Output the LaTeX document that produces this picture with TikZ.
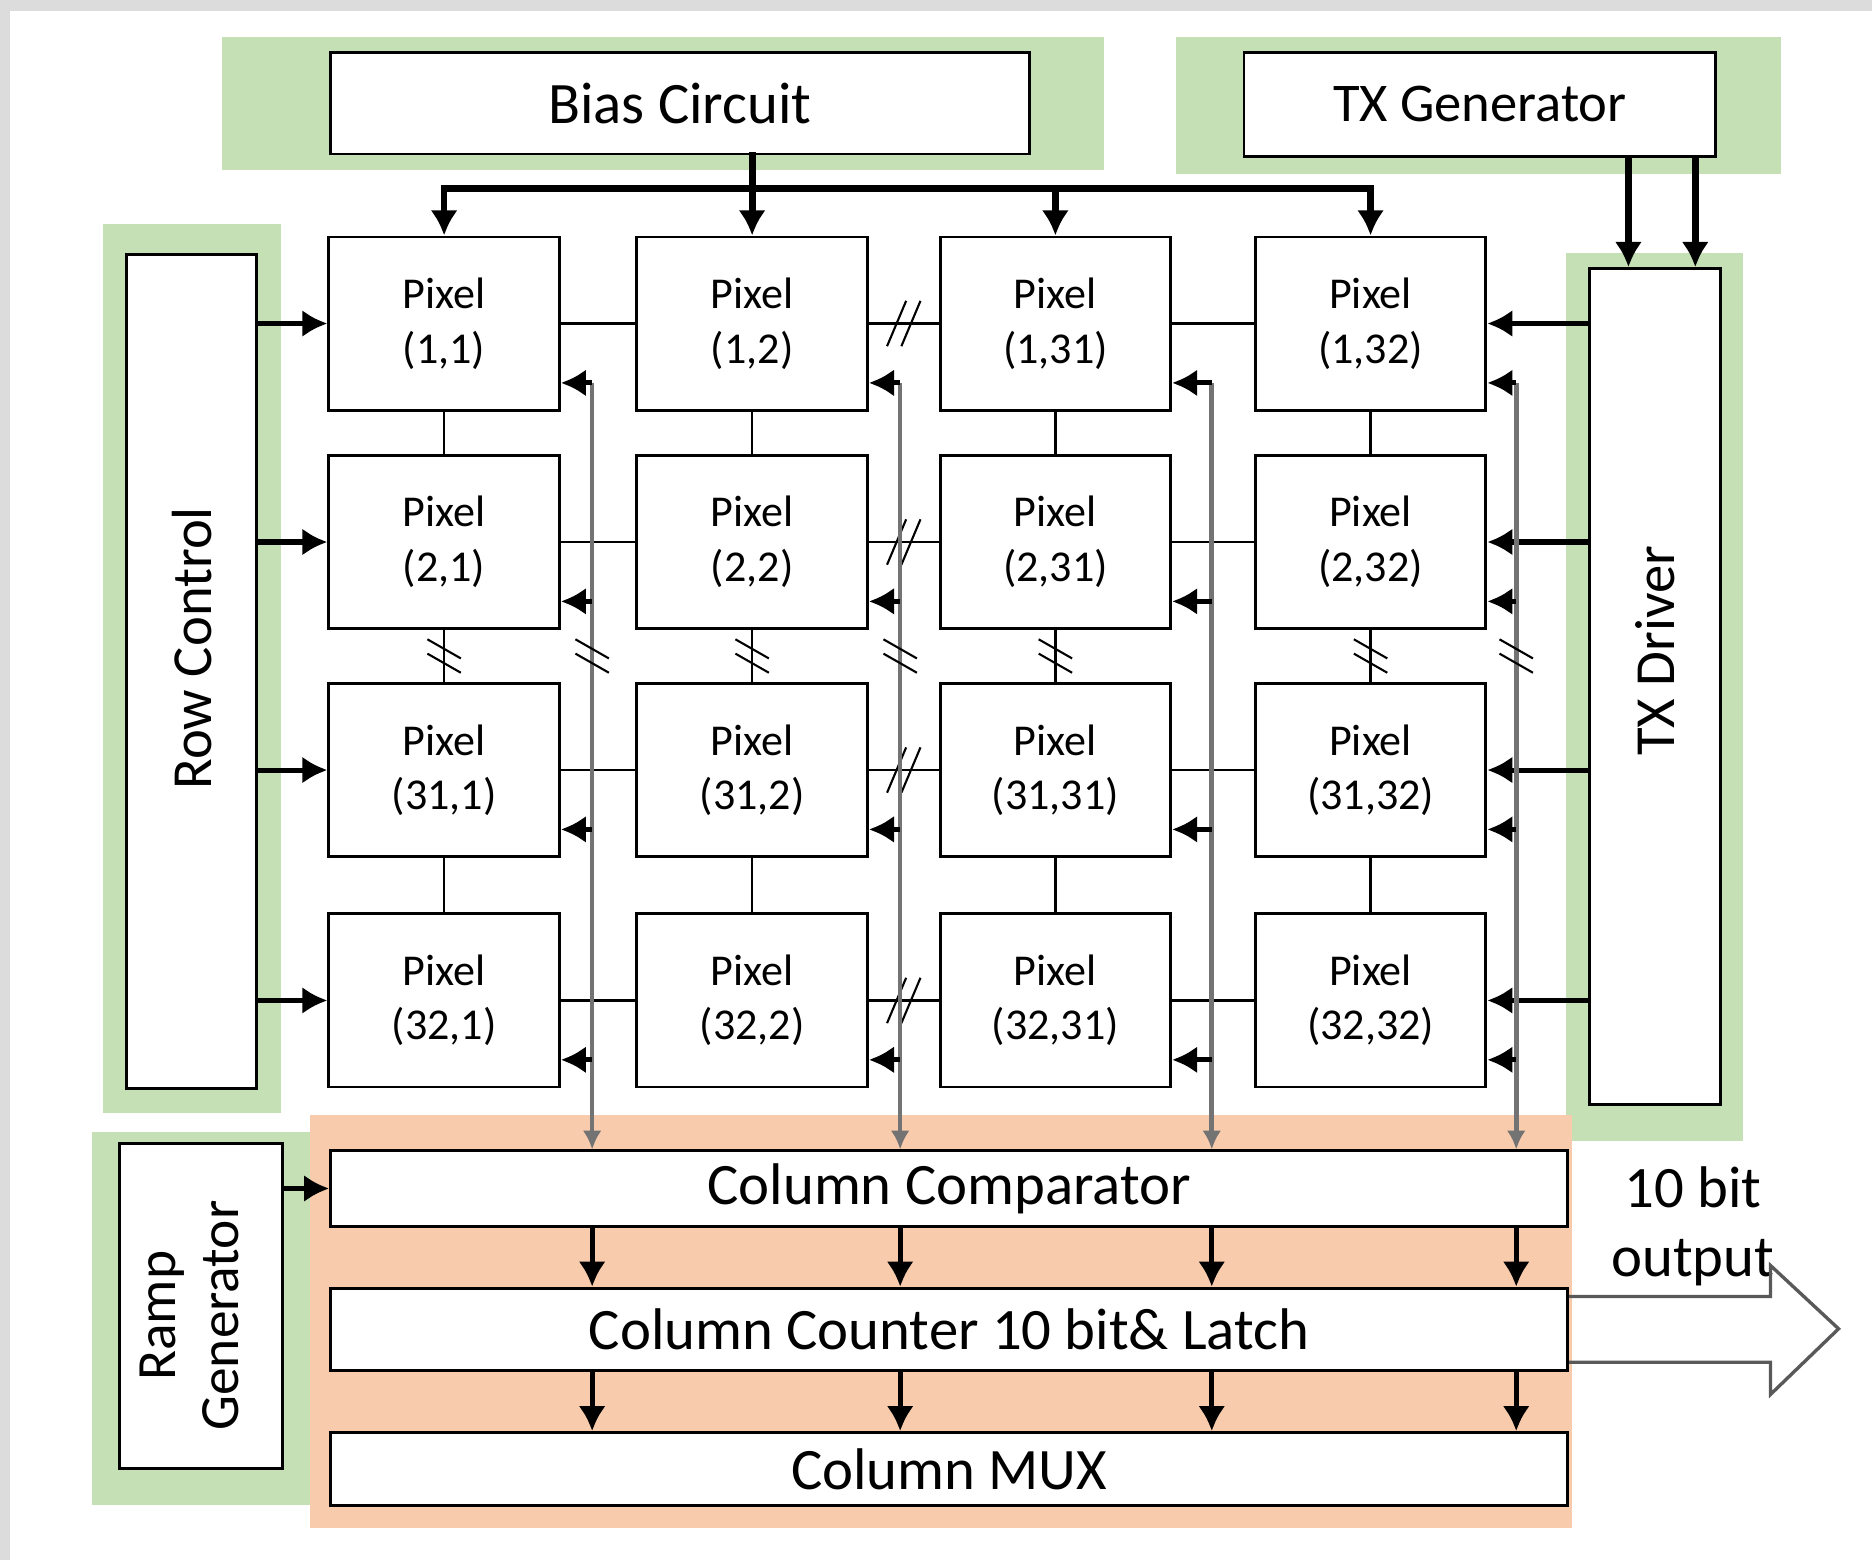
\documentclass[tikz,border=0pt]{standalone}
\usepackage{fontspec}
\setmainfont{Carlito}
\usepackage{xcolor}
\usepackage{tikz}
\usetikzlibrary{positioning, arrows.meta, calc}

\definecolor{blockgreen}{HTML}{C5E0B4}
\definecolor{readorange}{HTML}{F8CBAD}
\definecolor{framegray}{HTML}{DCDCDC}
\definecolor{outgray}{HTML}{595959}

% break marks on long links
\newcommand{\hcut}[1]{\draw[cutline] (#1) ++(-14,19) -- ++(16,-38) (#1) ++(-2,19) -- ++(16,-38);}
\newcommand{\vcut}[1]{\draw[cutline] (#1) ++(-14,-14) -- ++(28,16) (#1) ++(-14,-2) -- ++(28,16);}

\begin{document}
\begin{tikzpicture}[x=0.1mm, y=-0.1mm,
  box/.style={draw, line width=0.7pt, fill=white, inner sep=0pt, align=center},
  pixel/.style={box, minimum width=19.3mm, minimum height=14.5mm, font=\fontsize{10.5pt}{13pt}\selectfont},
  bigtext/.style={font=\fontsize{14pt}{16pt}\selectfont},
  sidetext/.style={font=\fontsize{13.5pt}{15pt}\selectfont},
  feed/.style={line width=1.2pt, -{Latex[length=6pt,width=6.5pt]}},
  bus/.style={line width=1.6pt, line cap=rect},
  link/.style={line width=0.6pt},
  cutline/.style={line width=0.5pt},
  colline/.style={black!55, line width=1.1pt, -{Latex[length=4.5pt,width=4.5pt]}}]
\useasboundingbox (0,0) rectangle (1568,1307);

% frame and block groups
\fill[framegray] (0,0) rectangle (1568,9);
\fill[framegray] (0,0) rectangle (8,1307);
\fill[blockgreen] (186,31) rectangle (925,142);
\fill[blockgreen] (985,31) rectangle (1492,146);
\fill[blockgreen] (86,188) rectangle (235,932);
\fill[blockgreen] (1312,212) rectangle (1460,956);
\fill[blockgreen] (77,948) rectangle (262,1261);
\fill[readorange] (260,934) rectangle (1317,1280);

% blocks
\node[box, bigtext, minimum width=58.5mm, minimum height=8.5mm] (bias) at (569.5,86.5) {Bias Circuit};
\node[box, font=\fontsize{13pt}{15pt}\selectfont, minimum width=39.5mm, minimum height=8.7mm] (txgen) at (1239.5,87.5) {TX Generator};
\node[box, sidetext, minimum width=10.9mm, minimum height=69.9mm] (rowctl) at (160.5,562.5) {\rotatebox{90}{\hspace{3.9mm}Row Control}};
\node[box, sidetext, minimum width=11mm, minimum height=70mm] (txdrv) at (1386,575) {\rotatebox{90}{\hspace{6mm}TX Driver}};
\node[box, font=\fontsize{13.2pt}{15pt}\selectfont, minimum width=13.7mm, minimum height=27.2mm] (ramp) at (168.5,1094)
  {\rotatebox{90}{\begin{tabular}{@{}c@{}}Ramp\\Generator\end{tabular}\hspace{1.6mm}}\hspace{1.2mm}};
\node[box, bigtext, minimum width=103.6mm, minimum height=6.3mm] (cmp) at (795,995.5) {Column Comparator};
\node[box, bigtext, minimum width=103.6mm, minimum height=6.9mm] (cnt) at (795,1113.5) {Column Counter 10 bit\& Latch};
\node[box, bigtext, minimum width=103.6mm, minimum height=6.1mm] (mux) at (795,1230.5) {Column MUX};
\node[font=\fontsize{14pt}{16.5pt}\selectfont, align=center] (outlbl) at (1418,1027) {10 bit\\output};

% pixel array
\foreach \ri/\yy in {1/271,2/454,31/645,32/838}
  \foreach \ci/\xx in {1/372,2/630,31/884,32/1148}
    \node[pixel] (px\ri-\ci) at (\xx,\yy) {Pixel\\(\ri,\ci)};

% bias bus
\coordinate (bus) at (0,158);
\draw[bus] (px1-2 |- bias.south) -- (px1-2 |- bus);
\draw[bus] (px1-1 |- bus) -- (px1-32 |- bus);
\foreach \ci in {1,2,31,32}
  \draw[feed, line width=1.6pt] (px1-\ci |- bus) -- (px1-\ci.north);

% TX generator to driver
\coordinate (tx1) at ([xshift=-2.2mm]txdrv.north);
\coordinate (tx2) at ([xshift=3.4mm]txdrv.north);
\draw[feed, line width=1.6pt] (tx1 |- txgen.south) -- (tx1);
\draw[feed, line width=1.6pt] (tx2 |- txgen.south) -- (tx2);

% row control and TX driver lines
\foreach \ri in {1,2,31,32} {
  \draw[feed] (rowctl.east |- px\ri-1) -- (px\ri-1.west);
  \draw[feed] (txdrv.west |- px\ri-32) -- (px\ri-32.east);
}

% links between pixels
\foreach \ri in {1,2,31,32} {
  \draw[link] (px\ri-1.east) -- (px\ri-2.west);
  \draw[link] (px\ri-2.east) -- (px\ri-31.west);
  \draw[link] (px\ri-31.east) -- (px\ri-32.west);
  \hcut{$(px\ri-2.east)!0.5!(px\ri-31.west)$}
}
\foreach \ci in {1,2,31,32} {
  \draw[link] (px1-\ci.south) -- (px2-\ci.north);
  \draw[link] (px2-\ci.south) -- (px31-\ci.north);
  \draw[link] (px31-\ci.south) -- (px32-\ci.north);
  \coordinate (m-\ci) at ($(px2-\ci.south)!0.5!(px31-\ci.north)$);
  \vcut{m-\ci}
}

% column lines
\coordinate (col1) at (496,0);
\coordinate (col2) at (754,0);
\coordinate (col31) at (1015,0);
\coordinate (col32) at (1270,0);
\foreach \ri in {1,2,31,32}
  \foreach \ci in {1,2,31,32}
    \coordinate (o\ri-\ci) at ([yshift=2.4mm]px\ri-\ci.south east);
\foreach \ci in {1,2,31,32} {
  \draw[colline] (col\ci |- o1-\ci) -- (col\ci |- cmp.north);
  \foreach \ri in {1,2,31,32}
    \draw[feed] (col\ci |- o\ri-\ci) -- (o\ri-\ci);
}
\foreach \ci in {1,2,32} {
  \vcut{col\ci |- m-\ci}
}

% readout chain
\draw[feed] (ramp.east |- cmp.west) -- (cmp.west);
\foreach \ci in {1,2,31,32} {
  \draw[feed] (col\ci |- cmp.south) -- (col\ci |- cnt.north);
  \draw[feed] (col\ci |- cnt.south) -- (col\ci |- mux.north);
}

% output arrow
\draw[outgray, line width=0.8pt] (cnt.east |- 0,1086) -- (1483,1086) -- (1483,1060) -- (1540,1113)
  -- (1483,1168) -- (1483,1141) -- (cnt.east |- 0,1141);
\end{tikzpicture}
\end{document}
